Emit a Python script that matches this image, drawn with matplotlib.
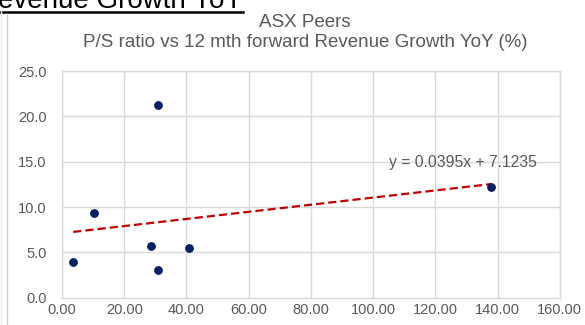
import numpy as np
import matplotlib.pyplot as plt
from matplotlib.lines import Line2D

plt.rcParams['font.family'] = ['Liberation Sans', 'DejaVu Sans']

text_color = '#595959'
grid_color = '#d9d9d9'
dot_color = '#002060'
trend_color = '#c00000'

# revenue growth yoy (%) vs P/S ratio
growth = [3.6, 10.3, 28.5, 30.7, 40.7, 30.9, 137.9]
ps_ratio = [3.9, 9.3, 5.7, 3.1, 5.45, 21.2, 12.25]
x_ticks = [0, 20, 40, 60, 80, 100, 120, 140, 160]
y_ticks = [0, 5, 10, 15, 20, 25]
trend_label = 'y = 0.0395x + 7.1235'


def main():
    fig = plt.figure(figsize=(5.85, 3.25), dpi=100)
    ax = fig.add_axes([0.106, 0.084, 0.851, 0.6975])

    # trendline (least squares over the points)
    slope, icept = np.polyfit(growth, ps_ratio, 1)
    xs = np.array([min(growth), max(growth)])
    ax.plot(xs, slope * xs + icept, color=trend_color, lw=1.6,
            dashes=(3.7, 1.8), zorder=2)

    ax.scatter(growth, ps_ratio, s=28, color=dot_color, zorder=3)

    ax.text(128.9, 14.9, trend_label, color=text_color, fontsize=11.3,
            ha='center', va='center')

    ax.set_xlim(0, 160)
    ax.set_ylim(0, 25)
    ax.set_xticks(x_ticks)
    ax.set_xticklabels(['%.2f' % v for v in x_ticks])
    ax.set_yticks(y_ticks)
    ax.set_yticklabels(['%.1f' % v for v in y_ticks])
    ax.tick_params(length=0, labelsize=10.5, labelcolor=text_color)
    ax.tick_params(axis='y', pad=11)
    ax.tick_params(axis='x', pad=4)
    ax.grid(True, color=grid_color, lw=1)
    ax.set_axisbelow(True)
    for sp in ax.spines.values():
        sp.set_color(grid_color)
        sp.set_linewidth(1)

    fig.text(0.521, 1 - 27 / 325, 'ASX Peers', color=text_color,
             fontsize=13.5, ha='center', va='baseline')
    fig.text(0.521, 1 - 47 / 325,
             'P/S ratio vs 12 mth forward Revenue Growth YoY (%)',
             color=text_color, fontsize=13.5, ha='center', va='baseline')

    # cut off heading from the slide above
    fig.text(243 / 585, 1 - 8 / 325, 'Revenue Growth YoY', color='black',
             fontsize=20, ha='right', va='baseline')
    fig.add_artist(Line2D([0, 243 / 585], [1 - 12 / 325] * 2,
                          color='black', lw=1.8))

    # left edge lines
    fig.add_artist(Line2D([1.3 / 585] * 2, [0, 1], color='#ebebeb', lw=1))
    fig.add_artist(Line2D([6.7 / 585] * 2, [0, 1 - 14 / 325],
                          color='#d0d0d0', lw=1))

    fig.savefig('out.png', dpi=100)
    return


if __name__ == "__main__":
    main()
